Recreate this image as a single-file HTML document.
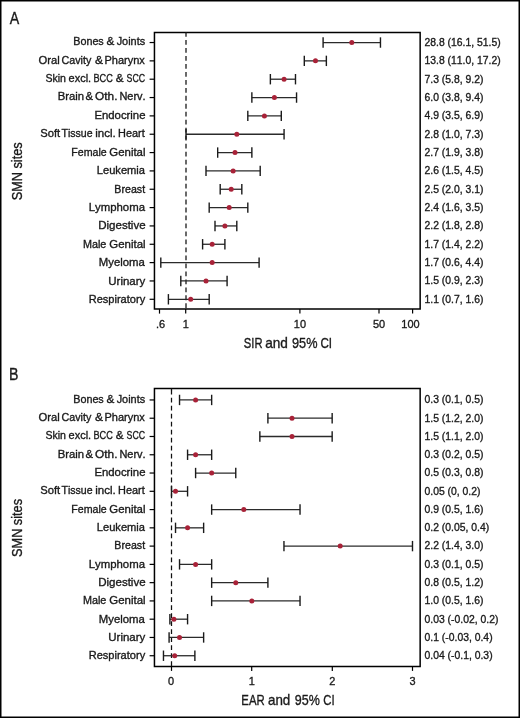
<!DOCTYPE html>
<html><head><meta charset="utf-8"><style>
html,body{margin:0;padding:0;background:#fff;}
.wrap{position:relative;width:520px;height:718px;overflow:hidden;background:#fff;}
svg{position:absolute;left:0;top:0;will-change:transform;}
text{font-family:"Liberation Sans",sans-serif;font-kerning:none;}
</style></head><body><div class="wrap">
<svg width="520" height="718" viewBox="0 0 520 718">
<path d="M154.45,32.45H420.15V309.1H154.45Z" fill="none" stroke="#000" stroke-width="1.5"/>
<line x1="186.0" y1="32.02" x2="186.0" y2="309.1" stroke="#111" stroke-width="1.25" stroke-dasharray="4.8 3.18"/>
<line x1="149.6" y1="42.53" x2="154.45" y2="42.53" stroke="#000" stroke-width="1.2"/>
<text transform="translate(73.25,45.10) scale(0.9533,1)" font-size="11.3" text-anchor="start" fill="#1a1a1a" stroke="#1a1a1a" stroke-width="0.35">Bones</text><text transform="translate(106.41,45.10) scale(1.0398,1)" font-size="11.3" text-anchor="start" fill="#1a1a1a" stroke="#1a1a1a" stroke-width="0.35">&amp;</text><text transform="translate(116.63,45.10) scale(0.9669,1)" font-size="11.3" text-anchor="start" fill="#1a1a1a" stroke="#1a1a1a" stroke-width="0.35">Joints</text>
<text transform="translate(424.50,45.88) scale(0.9200,1)" font-size="11.3" text-anchor="start" fill="#1a1a1a" stroke="#1a1a1a" stroke-width="0.35">28.8 (16.1, 51.5)</text>
<line x1="323.10" y1="42.53" x2="380.46" y2="42.53" stroke="#2b2b2b" stroke-width="1.3"/>
<line x1="323.10" y1="37.33" x2="323.10" y2="47.73" stroke="#1a1a1a" stroke-width="1.4"/>
<line x1="380.46" y1="37.33" x2="380.46" y2="47.73" stroke="#1a1a1a" stroke-width="1.4"/>
<circle cx="351.79" cy="42.53" r="2.5" fill="#a82238"/>
<line x1="149.6" y1="60.87" x2="154.45" y2="60.87" stroke="#000" stroke-width="1.2"/>
<text transform="translate(38.48,63.53) scale(0.9958,1)" font-size="11.3" text-anchor="start" fill="#1a1a1a" stroke="#1a1a1a" stroke-width="0.35">Oral</text><text transform="translate(61.52,63.53) scale(0.9490,1)" font-size="11.3" text-anchor="start" fill="#1a1a1a" stroke="#1a1a1a" stroke-width="0.35">Cavity</text><text transform="translate(94.91,63.53) scale(1.0676,1)" font-size="11.3" text-anchor="start" fill="#1a1a1a" stroke="#1a1a1a" stroke-width="0.35">&amp;</text><text transform="translate(104.43,63.53) scale(0.9750,1)" font-size="11.3" text-anchor="start" fill="#1a1a1a" stroke="#1a1a1a" stroke-width="0.35">Pharynx</text>
<text transform="translate(424.50,64.22) scale(0.9200,1)" font-size="11.3" text-anchor="start" fill="#1a1a1a" stroke="#1a1a1a" stroke-width="0.35">13.8 (11.0, 17.2)</text>
<line x1="304.30" y1="60.87" x2="326.36" y2="60.87" stroke="#2b2b2b" stroke-width="1.3"/>
<line x1="304.30" y1="55.67" x2="304.30" y2="66.07" stroke="#1a1a1a" stroke-width="1.4"/>
<line x1="326.36" y1="55.67" x2="326.36" y2="66.07" stroke="#1a1a1a" stroke-width="1.4"/>
<circle cx="315.49" cy="60.87" r="2.5" fill="#a82238"/>
<line x1="149.6" y1="79.21" x2="154.45" y2="79.21" stroke="#000" stroke-width="1.2"/>
<text transform="translate(45.42,81.96) scale(0.9354,1)" font-size="11.3" text-anchor="start" fill="#1a1a1a" stroke="#1a1a1a" stroke-width="0.35">Skin</text><text transform="translate(68.55,81.96) scale(0.9733,1)" font-size="11.3" text-anchor="start" fill="#1a1a1a" stroke="#1a1a1a" stroke-width="0.35">excl.</text><text transform="translate(93.46,81.96) scale(0.8105,1)" font-size="11.3" text-anchor="start" fill="#1a1a1a" stroke="#1a1a1a" stroke-width="0.35">BCC</text><text transform="translate(115.71,81.96) scale(1.0398,1)" font-size="11.3" text-anchor="start" fill="#1a1a1a" stroke="#1a1a1a" stroke-width="0.35">&amp;</text><text transform="translate(126.58,81.96) scale(0.7754,1)" font-size="11.3" text-anchor="start" fill="#1a1a1a" stroke="#1a1a1a" stroke-width="0.35">SCC</text>
<text transform="translate(424.50,82.56) scale(0.9200,1)" font-size="11.3" text-anchor="start" fill="#1a1a1a" stroke="#1a1a1a" stroke-width="0.35">7.3 (5.8, 9.2)</text>
<line x1="270.37" y1="79.21" x2="295.49" y2="79.21" stroke="#2b2b2b" stroke-width="1.3"/>
<line x1="270.37" y1="74.01" x2="270.37" y2="84.41" stroke="#1a1a1a" stroke-width="1.4"/>
<line x1="295.49" y1="74.01" x2="295.49" y2="84.41" stroke="#1a1a1a" stroke-width="1.4"/>
<circle cx="284.07" cy="79.21" r="2.5" fill="#a82238"/>
<line x1="149.6" y1="97.55" x2="154.45" y2="97.55" stroke="#000" stroke-width="1.2"/>
<text transform="translate(57.71,100.39) scale(1.0019,1)" font-size="11.3" text-anchor="start" fill="#1a1a1a" stroke="#1a1a1a" stroke-width="0.35">Brain</text><text transform="translate(85.52,100.39) scale(0.9982,1)" font-size="11.3" text-anchor="start" fill="#1a1a1a" stroke="#1a1a1a" stroke-width="0.35">&amp;</text><text transform="translate(95.06,100.39) scale(1.0495,1)" font-size="11.3" text-anchor="start" fill="#1a1a1a" stroke="#1a1a1a" stroke-width="0.35">Oth.</text><text transform="translate(119.43,100.39) scale(0.9718,1)" font-size="11.3" text-anchor="start" fill="#1a1a1a" stroke="#1a1a1a" stroke-width="0.35">Nerv.</text>
<text transform="translate(424.50,100.90) scale(0.9200,1)" font-size="11.3" text-anchor="start" fill="#1a1a1a" stroke="#1a1a1a" stroke-width="0.35">6.0 (3.8, 9.4)</text>
<line x1="251.86" y1="97.55" x2="296.55" y2="97.55" stroke="#2b2b2b" stroke-width="1.3"/>
<line x1="251.86" y1="92.35" x2="251.86" y2="102.75" stroke="#1a1a1a" stroke-width="1.4"/>
<line x1="296.55" y1="92.35" x2="296.55" y2="102.75" stroke="#1a1a1a" stroke-width="1.4"/>
<circle cx="274.40" cy="97.55" r="2.5" fill="#a82238"/>
<line x1="149.6" y1="115.89" x2="154.45" y2="115.89" stroke="#000" stroke-width="1.2"/>
<text transform="translate(145.50,118.82) scale(1.0051,1)" font-size="11.3" text-anchor="end" fill="#1a1a1a" stroke="#1a1a1a" stroke-width="0.35">Endocrine</text>
<text transform="translate(424.50,119.24) scale(0.9200,1)" font-size="11.3" text-anchor="start" fill="#1a1a1a" stroke="#1a1a1a" stroke-width="0.35">4.9 (3.5, 6.9)</text>
<line x1="247.81" y1="115.89" x2="281.29" y2="115.89" stroke="#2b2b2b" stroke-width="1.3"/>
<line x1="247.81" y1="110.69" x2="247.81" y2="121.09" stroke="#1a1a1a" stroke-width="1.4"/>
<line x1="281.29" y1="110.69" x2="281.29" y2="121.09" stroke="#1a1a1a" stroke-width="1.4"/>
<circle cx="264.41" cy="115.89" r="2.5" fill="#a82238"/>
<line x1="149.6" y1="134.23" x2="154.45" y2="134.23" stroke="#000" stroke-width="1.2"/>
<text transform="translate(40.19,137.25) scale(0.9945,1)" font-size="11.3" text-anchor="start" fill="#1a1a1a" stroke="#1a1a1a" stroke-width="0.35">Soft</text><text transform="translate(61.48,137.25) scale(0.9366,1)" font-size="11.3" text-anchor="start" fill="#1a1a1a" stroke="#1a1a1a" stroke-width="0.35">Tissue</text><text transform="translate(95.15,137.25) scale(1.0245,1)" font-size="11.3" text-anchor="start" fill="#1a1a1a" stroke="#1a1a1a" stroke-width="0.35">incl.</text><text transform="translate(118.04,137.25) scale(0.9665,1)" font-size="11.3" text-anchor="start" fill="#1a1a1a" stroke="#1a1a1a" stroke-width="0.35">Heart</text>
<text transform="translate(424.50,137.58) scale(0.9200,1)" font-size="11.3" text-anchor="start" fill="#1a1a1a" stroke="#1a1a1a" stroke-width="0.35">2.8 (1.0, 7.3)</text>
<line x1="186.00" y1="134.23" x2="284.07" y2="134.23" stroke="#2b2b2b" stroke-width="1.3"/>
<line x1="186.00" y1="129.03" x2="186.00" y2="139.43" stroke="#1a1a1a" stroke-width="1.4"/>
<line x1="284.07" y1="129.03" x2="284.07" y2="139.43" stroke="#1a1a1a" stroke-width="1.4"/>
<circle cx="236.80" cy="134.23" r="2.5" fill="#a82238"/>
<line x1="149.6" y1="152.57" x2="154.45" y2="152.57" stroke="#000" stroke-width="1.2"/>
<text transform="translate(71.26,155.68) scale(0.9409,1)" font-size="11.3" text-anchor="start" fill="#1a1a1a" stroke="#1a1a1a" stroke-width="0.35">Female</text><text transform="translate(109.29,155.68) scale(1.0116,1)" font-size="11.3" text-anchor="start" fill="#1a1a1a" stroke="#1a1a1a" stroke-width="0.35">Genital</text>
<text transform="translate(424.50,155.92) scale(0.9200,1)" font-size="11.3" text-anchor="start" fill="#1a1a1a" stroke="#1a1a1a" stroke-width="0.35">2.7 (1.9, 3.8)</text>
<line x1="217.67" y1="152.57" x2="251.86" y2="152.57" stroke="#2b2b2b" stroke-width="1.3"/>
<line x1="217.67" y1="147.37" x2="217.67" y2="157.77" stroke="#1a1a1a" stroke-width="1.4"/>
<line x1="251.86" y1="147.37" x2="251.86" y2="157.77" stroke="#1a1a1a" stroke-width="1.4"/>
<circle cx="235.00" cy="152.57" r="2.5" fill="#a82238"/>
<line x1="149.6" y1="170.91" x2="154.45" y2="170.91" stroke="#000" stroke-width="1.2"/>
<text transform="translate(145.02,174.11) scale(0.9854,1)" font-size="11.3" text-anchor="end" fill="#1a1a1a" stroke="#1a1a1a" stroke-width="0.35">Leukemia</text>
<text transform="translate(424.50,174.26) scale(0.9200,1)" font-size="11.3" text-anchor="start" fill="#1a1a1a" stroke="#1a1a1a" stroke-width="0.35">2.6 (1.5, 4.5)</text>
<line x1="206.00" y1="170.91" x2="260.20" y2="170.91" stroke="#2b2b2b" stroke-width="1.3"/>
<line x1="206.00" y1="165.71" x2="206.00" y2="176.11" stroke="#1a1a1a" stroke-width="1.4"/>
<line x1="260.20" y1="165.71" x2="260.20" y2="176.11" stroke="#1a1a1a" stroke-width="1.4"/>
<circle cx="233.14" cy="170.91" r="2.5" fill="#a82238"/>
<line x1="149.6" y1="189.25" x2="154.45" y2="189.25" stroke="#000" stroke-width="1.2"/>
<text transform="translate(145.09,192.54) scale(0.9418,1)" font-size="11.3" text-anchor="end" fill="#1a1a1a" stroke="#1a1a1a" stroke-width="0.35">Breast</text>
<text transform="translate(424.50,192.60) scale(0.9200,1)" font-size="11.3" text-anchor="start" fill="#1a1a1a" stroke="#1a1a1a" stroke-width="0.35">2.5 (2.0, 3.1)</text>
<line x1="220.20" y1="189.25" x2="241.82" y2="189.25" stroke="#2b2b2b" stroke-width="1.3"/>
<line x1="220.20" y1="184.05" x2="220.20" y2="194.45" stroke="#1a1a1a" stroke-width="1.4"/>
<line x1="241.82" y1="184.05" x2="241.82" y2="194.45" stroke="#1a1a1a" stroke-width="1.4"/>
<circle cx="231.21" cy="189.25" r="2.5" fill="#a82238"/>
<line x1="149.6" y1="207.59" x2="154.45" y2="207.59" stroke="#000" stroke-width="1.2"/>
<text transform="translate(144.98,210.97) scale(1.0073,1)" font-size="11.3" text-anchor="end" fill="#1a1a1a" stroke="#1a1a1a" stroke-width="0.35">Lymphoma</text>
<text transform="translate(424.50,210.94) scale(0.9200,1)" font-size="11.3" text-anchor="start" fill="#1a1a1a" stroke="#1a1a1a" stroke-width="0.35">2.4 (1.6, 3.5)</text>
<line x1="209.19" y1="207.59" x2="247.81" y2="207.59" stroke="#2b2b2b" stroke-width="1.3"/>
<line x1="209.19" y1="202.39" x2="209.19" y2="212.79" stroke="#1a1a1a" stroke-width="1.4"/>
<line x1="247.81" y1="202.39" x2="247.81" y2="212.79" stroke="#1a1a1a" stroke-width="1.4"/>
<circle cx="229.19" cy="207.59" r="2.5" fill="#a82238"/>
<line x1="149.6" y1="225.93" x2="154.45" y2="225.93" stroke="#000" stroke-width="1.2"/>
<text transform="translate(145.59,229.40) scale(1.0216,1)" font-size="11.3" text-anchor="end" fill="#1a1a1a" stroke="#1a1a1a" stroke-width="0.35">Digestive</text>
<text transform="translate(424.50,229.28) scale(0.9200,1)" font-size="11.3" text-anchor="start" fill="#1a1a1a" stroke="#1a1a1a" stroke-width="0.35">2.2 (1.8, 2.8)</text>
<line x1="215.00" y1="225.93" x2="236.80" y2="225.93" stroke="#2b2b2b" stroke-width="1.3"/>
<line x1="215.00" y1="220.73" x2="215.00" y2="231.13" stroke="#1a1a1a" stroke-width="1.4"/>
<line x1="236.80" y1="220.73" x2="236.80" y2="231.13" stroke="#1a1a1a" stroke-width="1.4"/>
<circle cx="224.90" cy="225.93" r="2.5" fill="#a82238"/>
<line x1="149.6" y1="244.27" x2="154.45" y2="244.27" stroke="#000" stroke-width="1.2"/>
<text transform="translate(82.94,247.83) scale(0.9571,1)" font-size="11.3" text-anchor="start" fill="#1a1a1a" stroke="#1a1a1a" stroke-width="0.35">Male</text><text transform="translate(109.29,247.83) scale(1.0144,1)" font-size="11.3" text-anchor="start" fill="#1a1a1a" stroke="#1a1a1a" stroke-width="0.35">Genital</text>
<text transform="translate(424.50,247.62) scale(0.9200,1)" font-size="11.3" text-anchor="start" fill="#1a1a1a" stroke="#1a1a1a" stroke-width="0.35">1.7 (1.4, 2.2)</text>
<line x1="202.60" y1="244.27" x2="224.90" y2="244.27" stroke="#2b2b2b" stroke-width="1.3"/>
<line x1="202.60" y1="239.07" x2="202.60" y2="249.47" stroke="#1a1a1a" stroke-width="1.4"/>
<line x1="224.90" y1="239.07" x2="224.90" y2="249.47" stroke="#1a1a1a" stroke-width="1.4"/>
<circle cx="212.18" cy="244.27" r="2.5" fill="#a82238"/>
<line x1="149.6" y1="262.61" x2="154.45" y2="262.61" stroke="#000" stroke-width="1.2"/>
<text transform="translate(144.81,266.26) scale(1.0036,1)" font-size="11.3" text-anchor="end" fill="#1a1a1a" stroke="#1a1a1a" stroke-width="0.35">Myeloma</text>
<text transform="translate(424.50,265.96) scale(0.9200,1)" font-size="11.3" text-anchor="start" fill="#1a1a1a" stroke="#1a1a1a" stroke-width="0.35">1.7 (0.6, 4.4)</text>
<line x1="160.80" y1="262.61" x2="259.10" y2="262.61" stroke="#2b2b2b" stroke-width="1.3"/>
<line x1="160.80" y1="257.41" x2="160.80" y2="267.81" stroke="#1a1a1a" stroke-width="1.4"/>
<line x1="259.10" y1="257.41" x2="259.10" y2="267.81" stroke="#1a1a1a" stroke-width="1.4"/>
<circle cx="212.18" cy="262.61" r="2.5" fill="#a82238"/>
<line x1="149.6" y1="280.95" x2="154.45" y2="280.95" stroke="#000" stroke-width="1.2"/>
<text transform="translate(145.29,284.69) scale(1.0168,1)" font-size="11.3" text-anchor="end" fill="#1a1a1a" stroke="#1a1a1a" stroke-width="0.35">Urinary</text>
<text transform="translate(424.50,284.30) scale(0.9200,1)" font-size="11.3" text-anchor="start" fill="#1a1a1a" stroke="#1a1a1a" stroke-width="0.35">1.5 (0.9, 2.3)</text>
<line x1="180.80" y1="280.95" x2="227.09" y2="280.95" stroke="#2b2b2b" stroke-width="1.3"/>
<line x1="180.80" y1="275.75" x2="180.80" y2="286.15" stroke="#1a1a1a" stroke-width="1.4"/>
<line x1="227.09" y1="275.75" x2="227.09" y2="286.15" stroke="#1a1a1a" stroke-width="1.4"/>
<circle cx="206.00" cy="280.95" r="2.5" fill="#a82238"/>
<line x1="149.6" y1="299.29" x2="154.45" y2="299.29" stroke="#000" stroke-width="1.2"/>
<text transform="translate(145.16,303.12) scale(0.9784,1)" font-size="11.3" text-anchor="end" fill="#1a1a1a" stroke="#1a1a1a" stroke-width="0.35">Respiratory</text>
<text transform="translate(424.50,302.64) scale(0.9200,1)" font-size="11.3" text-anchor="start" fill="#1a1a1a" stroke="#1a1a1a" stroke-width="0.35">1.1 (0.7, 1.6)</text>
<line x1="168.40" y1="299.29" x2="209.19" y2="299.29" stroke="#2b2b2b" stroke-width="1.3"/>
<line x1="168.40" y1="294.09" x2="168.40" y2="304.49" stroke="#1a1a1a" stroke-width="1.4"/>
<line x1="209.19" y1="294.09" x2="209.19" y2="304.49" stroke="#1a1a1a" stroke-width="1.4"/>
<circle cx="190.70" cy="299.29" r="2.5" fill="#a82238"/>
<line x1="159.5" y1="309.1" x2="159.5" y2="313.6" stroke="#000" stroke-width="1.2"/>
<text transform="translate(160.50,328.40) scale(0.9300,1)" font-size="11.8" text-anchor="middle" fill="#1a1a1a" stroke="#1a1a1a" stroke-width="0.35">.6</text>
<line x1="185.7" y1="309.1" x2="185.7" y2="313.6" stroke="#000" stroke-width="1.2"/>
<text transform="translate(185.70,328.40) scale(0.9300,1)" font-size="11.8" text-anchor="middle" fill="#1a1a1a" stroke="#1a1a1a" stroke-width="0.35">1</text>
<line x1="299.9" y1="309.1" x2="299.9" y2="313.6" stroke="#000" stroke-width="1.2"/>
<text transform="translate(299.90,328.40) scale(0.9300,1)" font-size="11.8" text-anchor="middle" fill="#1a1a1a" stroke="#1a1a1a" stroke-width="0.35">10</text>
<line x1="379.0" y1="309.1" x2="379.0" y2="313.6" stroke="#000" stroke-width="1.2"/>
<text transform="translate(379.00,328.40) scale(0.9300,1)" font-size="11.8" text-anchor="middle" fill="#1a1a1a" stroke="#1a1a1a" stroke-width="0.35">50</text>
<line x1="412.6" y1="309.1" x2="412.6" y2="313.6" stroke="#000" stroke-width="1.2"/>
<text transform="translate(410.50,328.40) scale(0.9300,1)" font-size="11.8" text-anchor="middle" fill="#1a1a1a" stroke="#1a1a1a" stroke-width="0.35">100</text>
<text transform="translate(243.87,347.70) scale(0.7566,1)" font-size="14.8" text-anchor="start" fill="#1a1a1a" stroke="#1a1a1a" stroke-width="0.35">SIR</text><text transform="translate(265.13,347.70) scale(0.9222,1)" font-size="14.8" text-anchor="start" fill="#1a1a1a" stroke="#1a1a1a" stroke-width="0.35">and</text><text transform="translate(292.02,347.70) scale(0.8591,1)" font-size="14.8" text-anchor="start" fill="#1a1a1a" stroke="#1a1a1a" stroke-width="0.35">95%</text><text transform="translate(320.40,347.70) scale(0.7854,1)" font-size="14.8" text-anchor="start" fill="#1a1a1a" stroke="#1a1a1a" stroke-width="0.35">CI</text>
<text transform="translate(9.80,23.70) scale(0.8600,1)" font-size="16.5" text-anchor="start" fill="#1a1a1a" stroke="#1a1a1a" stroke-width="0.35">A</text>
<text transform="translate(21.6,171.3) rotate(-90) scale(0.859,1)" font-size="14.8" text-anchor="middle" fill="#1a1a1a" stroke="#1a1a1a" stroke-width="0.35">SMN sites</text>
<path d="M154.45,388.6H420.15V666.4H154.45Z" fill="none" stroke="#000" stroke-width="1.5"/>
<line x1="171.5" y1="389.82" x2="171.5" y2="666.4" stroke="#111" stroke-width="1.25" stroke-dasharray="4.8 3.18"/>
<line x1="171.5" y1="388.6" x2="171.5" y2="390.32" stroke="#111" stroke-width="1.25"/>
<line x1="149.6" y1="399.95" x2="154.45" y2="399.95" stroke="#000" stroke-width="1.2"/>
<text transform="translate(73.25,402.80) scale(0.9533,1)" font-size="11.3" text-anchor="start" fill="#1a1a1a" stroke="#1a1a1a" stroke-width="0.35">Bones</text><text transform="translate(106.41,402.80) scale(1.0398,1)" font-size="11.3" text-anchor="start" fill="#1a1a1a" stroke="#1a1a1a" stroke-width="0.35">&amp;</text><text transform="translate(116.63,402.80) scale(0.9669,1)" font-size="11.3" text-anchor="start" fill="#1a1a1a" stroke="#1a1a1a" stroke-width="0.35">Joints</text>
<text transform="translate(424.50,403.30) scale(0.9200,1)" font-size="11.3" text-anchor="start" fill="#1a1a1a" stroke="#1a1a1a" stroke-width="0.35">0.3 (0.1, 0.5)</text>
<line x1="179.53" y1="399.95" x2="211.66" y2="399.95" stroke="#2b2b2b" stroke-width="1.3"/>
<line x1="179.53" y1="394.75" x2="179.53" y2="405.15" stroke="#1a1a1a" stroke-width="1.4"/>
<line x1="211.66" y1="394.75" x2="211.66" y2="405.15" stroke="#1a1a1a" stroke-width="1.4"/>
<circle cx="195.60" cy="399.95" r="2.5" fill="#a82238"/>
<line x1="149.6" y1="418.22" x2="154.45" y2="418.22" stroke="#000" stroke-width="1.2"/>
<text transform="translate(38.48,421.11) scale(0.9958,1)" font-size="11.3" text-anchor="start" fill="#1a1a1a" stroke="#1a1a1a" stroke-width="0.35">Oral</text><text transform="translate(61.52,421.11) scale(0.9490,1)" font-size="11.3" text-anchor="start" fill="#1a1a1a" stroke="#1a1a1a" stroke-width="0.35">Cavity</text><text transform="translate(94.91,421.11) scale(1.0676,1)" font-size="11.3" text-anchor="start" fill="#1a1a1a" stroke="#1a1a1a" stroke-width="0.35">&amp;</text><text transform="translate(104.43,421.11) scale(0.9750,1)" font-size="11.3" text-anchor="start" fill="#1a1a1a" stroke="#1a1a1a" stroke-width="0.35">Pharynx</text>
<text transform="translate(424.50,421.57) scale(0.9200,1)" font-size="11.3" text-anchor="start" fill="#1a1a1a" stroke="#1a1a1a" stroke-width="0.35">1.5 (1.2, 2.0)</text>
<line x1="267.90" y1="418.22" x2="332.16" y2="418.22" stroke="#2b2b2b" stroke-width="1.3"/>
<line x1="267.90" y1="413.02" x2="267.90" y2="423.42" stroke="#1a1a1a" stroke-width="1.4"/>
<line x1="332.16" y1="413.02" x2="332.16" y2="423.42" stroke="#1a1a1a" stroke-width="1.4"/>
<circle cx="292.00" cy="418.22" r="2.5" fill="#a82238"/>
<line x1="149.6" y1="436.49" x2="154.45" y2="436.49" stroke="#000" stroke-width="1.2"/>
<text transform="translate(45.42,439.42) scale(0.9354,1)" font-size="11.3" text-anchor="start" fill="#1a1a1a" stroke="#1a1a1a" stroke-width="0.35">Skin</text><text transform="translate(68.55,439.42) scale(0.9733,1)" font-size="11.3" text-anchor="start" fill="#1a1a1a" stroke="#1a1a1a" stroke-width="0.35">excl.</text><text transform="translate(93.46,439.42) scale(0.8105,1)" font-size="11.3" text-anchor="start" fill="#1a1a1a" stroke="#1a1a1a" stroke-width="0.35">BCC</text><text transform="translate(115.71,439.42) scale(1.0398,1)" font-size="11.3" text-anchor="start" fill="#1a1a1a" stroke="#1a1a1a" stroke-width="0.35">&amp;</text><text transform="translate(126.58,439.42) scale(0.7754,1)" font-size="11.3" text-anchor="start" fill="#1a1a1a" stroke="#1a1a1a" stroke-width="0.35">SCC</text>
<text transform="translate(424.50,439.84) scale(0.9200,1)" font-size="11.3" text-anchor="start" fill="#1a1a1a" stroke="#1a1a1a" stroke-width="0.35">1.5 (1.1, 2.0)</text>
<line x1="259.86" y1="436.49" x2="332.16" y2="436.49" stroke="#2b2b2b" stroke-width="1.3"/>
<line x1="259.86" y1="431.29" x2="259.86" y2="441.69" stroke="#1a1a1a" stroke-width="1.4"/>
<line x1="332.16" y1="431.29" x2="332.16" y2="441.69" stroke="#1a1a1a" stroke-width="1.4"/>
<circle cx="292.00" cy="436.49" r="2.5" fill="#a82238"/>
<line x1="149.6" y1="454.76" x2="154.45" y2="454.76" stroke="#000" stroke-width="1.2"/>
<text transform="translate(57.71,457.73) scale(1.0019,1)" font-size="11.3" text-anchor="start" fill="#1a1a1a" stroke="#1a1a1a" stroke-width="0.35">Brain</text><text transform="translate(85.52,457.73) scale(0.9982,1)" font-size="11.3" text-anchor="start" fill="#1a1a1a" stroke="#1a1a1a" stroke-width="0.35">&amp;</text><text transform="translate(95.06,457.73) scale(1.0495,1)" font-size="11.3" text-anchor="start" fill="#1a1a1a" stroke="#1a1a1a" stroke-width="0.35">Oth.</text><text transform="translate(119.43,457.73) scale(0.9718,1)" font-size="11.3" text-anchor="start" fill="#1a1a1a" stroke="#1a1a1a" stroke-width="0.35">Nerv.</text>
<text transform="translate(424.50,458.11) scale(0.9200,1)" font-size="11.3" text-anchor="start" fill="#1a1a1a" stroke="#1a1a1a" stroke-width="0.35">0.3 (0.2, 0.5)</text>
<line x1="187.57" y1="454.76" x2="211.66" y2="454.76" stroke="#2b2b2b" stroke-width="1.3"/>
<line x1="187.57" y1="449.56" x2="187.57" y2="459.96" stroke="#1a1a1a" stroke-width="1.4"/>
<line x1="211.66" y1="449.56" x2="211.66" y2="459.96" stroke="#1a1a1a" stroke-width="1.4"/>
<circle cx="195.60" cy="454.76" r="2.5" fill="#a82238"/>
<line x1="149.6" y1="473.03" x2="154.45" y2="473.03" stroke="#000" stroke-width="1.2"/>
<text transform="translate(145.50,476.04) scale(1.0051,1)" font-size="11.3" text-anchor="end" fill="#1a1a1a" stroke="#1a1a1a" stroke-width="0.35">Endocrine</text>
<text transform="translate(424.50,476.38) scale(0.9200,1)" font-size="11.3" text-anchor="start" fill="#1a1a1a" stroke="#1a1a1a" stroke-width="0.35">0.5 (0.3, 0.8)</text>
<line x1="195.60" y1="473.03" x2="235.76" y2="473.03" stroke="#2b2b2b" stroke-width="1.3"/>
<line x1="195.60" y1="467.83" x2="195.60" y2="478.23" stroke="#1a1a1a" stroke-width="1.4"/>
<line x1="235.76" y1="467.83" x2="235.76" y2="478.23" stroke="#1a1a1a" stroke-width="1.4"/>
<circle cx="211.66" cy="473.03" r="2.5" fill="#a82238"/>
<line x1="149.6" y1="491.30" x2="154.45" y2="491.30" stroke="#000" stroke-width="1.2"/>
<text transform="translate(40.19,494.35) scale(0.9945,1)" font-size="11.3" text-anchor="start" fill="#1a1a1a" stroke="#1a1a1a" stroke-width="0.35">Soft</text><text transform="translate(61.48,494.35) scale(0.9366,1)" font-size="11.3" text-anchor="start" fill="#1a1a1a" stroke="#1a1a1a" stroke-width="0.35">Tissue</text><text transform="translate(95.15,494.35) scale(1.0245,1)" font-size="11.3" text-anchor="start" fill="#1a1a1a" stroke="#1a1a1a" stroke-width="0.35">incl.</text><text transform="translate(118.04,494.35) scale(0.9665,1)" font-size="11.3" text-anchor="start" fill="#1a1a1a" stroke="#1a1a1a" stroke-width="0.35">Heart</text>
<text transform="translate(424.50,494.65) scale(0.9200,1)" font-size="11.3" text-anchor="start" fill="#1a1a1a" stroke="#1a1a1a" stroke-width="0.35">0.05 (0, 0.2)</text>
<line x1="171.50" y1="491.30" x2="187.57" y2="491.30" stroke="#2b2b2b" stroke-width="1.3"/>
<line x1="171.50" y1="486.10" x2="171.50" y2="496.50" stroke="#1a1a1a" stroke-width="1.4"/>
<line x1="187.57" y1="486.10" x2="187.57" y2="496.50" stroke="#1a1a1a" stroke-width="1.4"/>
<circle cx="175.52" cy="491.30" r="2.5" fill="#a82238"/>
<line x1="149.6" y1="509.57" x2="154.45" y2="509.57" stroke="#000" stroke-width="1.2"/>
<text transform="translate(71.26,512.66) scale(0.9409,1)" font-size="11.3" text-anchor="start" fill="#1a1a1a" stroke="#1a1a1a" stroke-width="0.35">Female</text><text transform="translate(109.29,512.66) scale(1.0116,1)" font-size="11.3" text-anchor="start" fill="#1a1a1a" stroke="#1a1a1a" stroke-width="0.35">Genital</text>
<text transform="translate(424.50,512.92) scale(0.9200,1)" font-size="11.3" text-anchor="start" fill="#1a1a1a" stroke="#1a1a1a" stroke-width="0.35">0.9 (0.5, 1.6)</text>
<line x1="211.66" y1="509.57" x2="300.03" y2="509.57" stroke="#2b2b2b" stroke-width="1.3"/>
<line x1="211.66" y1="504.37" x2="211.66" y2="514.77" stroke="#1a1a1a" stroke-width="1.4"/>
<line x1="300.03" y1="504.37" x2="300.03" y2="514.77" stroke="#1a1a1a" stroke-width="1.4"/>
<circle cx="243.80" cy="509.57" r="2.5" fill="#a82238"/>
<line x1="149.6" y1="527.84" x2="154.45" y2="527.84" stroke="#000" stroke-width="1.2"/>
<text transform="translate(145.02,530.97) scale(0.9854,1)" font-size="11.3" text-anchor="end" fill="#1a1a1a" stroke="#1a1a1a" stroke-width="0.35">Leukemia</text>
<text transform="translate(424.50,531.19) scale(0.9200,1)" font-size="11.3" text-anchor="start" fill="#1a1a1a" stroke="#1a1a1a" stroke-width="0.35">0.2 (0.05, 0.4)</text>
<line x1="175.52" y1="527.84" x2="203.63" y2="527.84" stroke="#2b2b2b" stroke-width="1.3"/>
<line x1="175.52" y1="522.64" x2="175.52" y2="533.04" stroke="#1a1a1a" stroke-width="1.4"/>
<line x1="203.63" y1="522.64" x2="203.63" y2="533.04" stroke="#1a1a1a" stroke-width="1.4"/>
<circle cx="187.57" cy="527.84" r="2.5" fill="#a82238"/>
<line x1="149.6" y1="546.11" x2="154.45" y2="546.11" stroke="#000" stroke-width="1.2"/>
<text transform="translate(145.09,549.28) scale(0.9418,1)" font-size="11.3" text-anchor="end" fill="#1a1a1a" stroke="#1a1a1a" stroke-width="0.35">Breast</text>
<text transform="translate(424.50,549.46) scale(0.9200,1)" font-size="11.3" text-anchor="start" fill="#1a1a1a" stroke="#1a1a1a" stroke-width="0.35">2.2 (1.4, 3.0)</text>
<line x1="283.96" y1="546.11" x2="412.49" y2="546.11" stroke="#2b2b2b" stroke-width="1.3"/>
<line x1="283.96" y1="540.91" x2="283.96" y2="551.31" stroke="#1a1a1a" stroke-width="1.4"/>
<line x1="412.49" y1="540.91" x2="412.49" y2="551.31" stroke="#1a1a1a" stroke-width="1.4"/>
<circle cx="340.19" cy="546.11" r="2.5" fill="#a82238"/>
<line x1="149.6" y1="564.38" x2="154.45" y2="564.38" stroke="#000" stroke-width="1.2"/>
<text transform="translate(144.98,567.59) scale(1.0073,1)" font-size="11.3" text-anchor="end" fill="#1a1a1a" stroke="#1a1a1a" stroke-width="0.35">Lymphoma</text>
<text transform="translate(424.50,567.73) scale(0.9200,1)" font-size="11.3" text-anchor="start" fill="#1a1a1a" stroke="#1a1a1a" stroke-width="0.35">0.3 (0.1, 0.5)</text>
<line x1="179.53" y1="564.38" x2="211.66" y2="564.38" stroke="#2b2b2b" stroke-width="1.3"/>
<line x1="179.53" y1="559.18" x2="179.53" y2="569.58" stroke="#1a1a1a" stroke-width="1.4"/>
<line x1="211.66" y1="559.18" x2="211.66" y2="569.58" stroke="#1a1a1a" stroke-width="1.4"/>
<circle cx="195.60" cy="564.38" r="2.5" fill="#a82238"/>
<line x1="149.6" y1="582.65" x2="154.45" y2="582.65" stroke="#000" stroke-width="1.2"/>
<text transform="translate(145.59,585.90) scale(1.0216,1)" font-size="11.3" text-anchor="end" fill="#1a1a1a" stroke="#1a1a1a" stroke-width="0.35">Digestive</text>
<text transform="translate(424.50,586.00) scale(0.9200,1)" font-size="11.3" text-anchor="start" fill="#1a1a1a" stroke="#1a1a1a" stroke-width="0.35">0.8 (0.5, 1.2)</text>
<line x1="211.66" y1="582.65" x2="267.90" y2="582.65" stroke="#2b2b2b" stroke-width="1.3"/>
<line x1="211.66" y1="577.45" x2="211.66" y2="587.85" stroke="#1a1a1a" stroke-width="1.4"/>
<line x1="267.90" y1="577.45" x2="267.90" y2="587.85" stroke="#1a1a1a" stroke-width="1.4"/>
<circle cx="235.76" cy="582.65" r="2.5" fill="#a82238"/>
<line x1="149.6" y1="600.92" x2="154.45" y2="600.92" stroke="#000" stroke-width="1.2"/>
<text transform="translate(82.94,604.21) scale(0.9571,1)" font-size="11.3" text-anchor="start" fill="#1a1a1a" stroke="#1a1a1a" stroke-width="0.35">Male</text><text transform="translate(109.29,604.21) scale(1.0144,1)" font-size="11.3" text-anchor="start" fill="#1a1a1a" stroke="#1a1a1a" stroke-width="0.35">Genital</text>
<text transform="translate(424.50,604.27) scale(0.9200,1)" font-size="11.3" text-anchor="start" fill="#1a1a1a" stroke="#1a1a1a" stroke-width="0.35">1.0 (0.5, 1.6)</text>
<line x1="211.66" y1="600.92" x2="300.03" y2="600.92" stroke="#2b2b2b" stroke-width="1.3"/>
<line x1="211.66" y1="595.72" x2="211.66" y2="606.12" stroke="#1a1a1a" stroke-width="1.4"/>
<line x1="300.03" y1="595.72" x2="300.03" y2="606.12" stroke="#1a1a1a" stroke-width="1.4"/>
<circle cx="251.83" cy="600.92" r="2.5" fill="#a82238"/>
<line x1="149.6" y1="619.19" x2="154.45" y2="619.19" stroke="#000" stroke-width="1.2"/>
<text transform="translate(144.81,622.52) scale(1.0036,1)" font-size="11.3" text-anchor="end" fill="#1a1a1a" stroke="#1a1a1a" stroke-width="0.35">Myeloma</text>
<text transform="translate(424.50,622.54) scale(0.9200,1)" font-size="11.3" text-anchor="start" fill="#1a1a1a" stroke="#1a1a1a" stroke-width="0.35">0.03 (-0.02, 0.2)</text>
<line x1="169.89" y1="619.19" x2="187.57" y2="619.19" stroke="#2b2b2b" stroke-width="1.3"/>
<line x1="169.89" y1="613.99" x2="169.89" y2="624.39" stroke="#1a1a1a" stroke-width="1.4"/>
<line x1="187.57" y1="613.99" x2="187.57" y2="624.39" stroke="#1a1a1a" stroke-width="1.4"/>
<circle cx="173.91" cy="619.19" r="2.5" fill="#a82238"/>
<line x1="149.6" y1="637.46" x2="154.45" y2="637.46" stroke="#000" stroke-width="1.2"/>
<text transform="translate(145.29,640.83) scale(1.0168,1)" font-size="11.3" text-anchor="end" fill="#1a1a1a" stroke="#1a1a1a" stroke-width="0.35">Urinary</text>
<text transform="translate(424.50,640.81) scale(0.9200,1)" font-size="11.3" text-anchor="start" fill="#1a1a1a" stroke="#1a1a1a" stroke-width="0.35">0.1 (-0.03, 0.4)</text>
<line x1="169.09" y1="637.46" x2="203.63" y2="637.46" stroke="#2b2b2b" stroke-width="1.3"/>
<line x1="169.09" y1="632.26" x2="169.09" y2="642.66" stroke="#1a1a1a" stroke-width="1.4"/>
<line x1="203.63" y1="632.26" x2="203.63" y2="642.66" stroke="#1a1a1a" stroke-width="1.4"/>
<circle cx="179.53" cy="637.46" r="2.5" fill="#a82238"/>
<line x1="149.6" y1="655.73" x2="154.45" y2="655.73" stroke="#000" stroke-width="1.2"/>
<text transform="translate(145.16,659.14) scale(0.9784,1)" font-size="11.3" text-anchor="end" fill="#1a1a1a" stroke="#1a1a1a" stroke-width="0.35">Respiratory</text>
<text transform="translate(424.50,659.08) scale(0.9200,1)" font-size="11.3" text-anchor="start" fill="#1a1a1a" stroke="#1a1a1a" stroke-width="0.35">0.04 (-0.1, 0.3)</text>
<line x1="163.47" y1="655.73" x2="194.88" y2="655.73" stroke="#2b2b2b" stroke-width="1.3"/>
<line x1="163.47" y1="650.53" x2="163.47" y2="660.93" stroke="#1a1a1a" stroke-width="1.4"/>
<line x1="194.88" y1="650.53" x2="194.88" y2="660.93" stroke="#1a1a1a" stroke-width="1.4"/>
<circle cx="174.71" cy="655.73" r="2.5" fill="#a82238"/>
<line x1="171.5" y1="666.4" x2="171.5" y2="670.9" stroke="#000" stroke-width="1.2"/>
<text transform="translate(171.00,685.20) scale(0.9300,1)" font-size="11.8" text-anchor="middle" fill="#1a1a1a" stroke="#1a1a1a" stroke-width="0.35">0</text>
<line x1="251.7" y1="666.4" x2="251.7" y2="670.9" stroke="#000" stroke-width="1.2"/>
<text transform="translate(251.70,685.20) scale(0.9300,1)" font-size="11.8" text-anchor="middle" fill="#1a1a1a" stroke="#1a1a1a" stroke-width="0.35">1</text>
<line x1="332.3" y1="666.4" x2="332.3" y2="670.9" stroke="#000" stroke-width="1.2"/>
<text transform="translate(332.30,685.20) scale(0.9300,1)" font-size="11.8" text-anchor="middle" fill="#1a1a1a" stroke="#1a1a1a" stroke-width="0.35">2</text>
<line x1="412.5" y1="666.4" x2="412.5" y2="670.9" stroke="#000" stroke-width="1.2"/>
<text transform="translate(412.50,685.20) scale(0.9300,1)" font-size="11.8" text-anchor="middle" fill="#1a1a1a" stroke="#1a1a1a" stroke-width="0.35">3</text>
<text transform="translate(241.37,704.80) scale(0.7684,1)" font-size="14.8" text-anchor="start" fill="#1a1a1a" stroke="#1a1a1a" stroke-width="0.35">EAR</text><text transform="translate(267.94,704.80) scale(0.9050,1)" font-size="14.8" text-anchor="start" fill="#1a1a1a" stroke="#1a1a1a" stroke-width="0.35">and</text><text transform="translate(294.82,704.80) scale(0.8451,1)" font-size="14.8" text-anchor="start" fill="#1a1a1a" stroke="#1a1a1a" stroke-width="0.35">95%</text><text transform="translate(323.31,704.80) scale(0.7698,1)" font-size="14.8" text-anchor="start" fill="#1a1a1a" stroke="#1a1a1a" stroke-width="0.35">CI</text>
<text transform="translate(9.00,379.60) scale(0.8600,1)" font-size="16.5" text-anchor="start" fill="#1a1a1a" stroke="#1a1a1a" stroke-width="0.35">B</text>
<text transform="translate(21.6,527.95) rotate(-90) scale(0.859,1)" font-size="14.8" text-anchor="middle" fill="#1a1a1a" stroke="#1a1a1a" stroke-width="0.35">SMN sites</text>
<rect x="0" y="0" width="520" height="718" fill="none" stroke="#000" stroke-width="3"/>
</svg></div></body></html>
